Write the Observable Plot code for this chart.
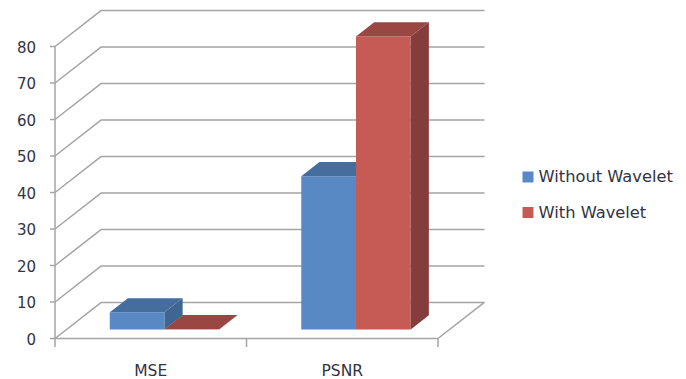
<!DOCTYPE html>
<html>
<head>
<meta charset="utf-8">
<style>
  html, body { margin: 0; background: #fff; }
  svg { display: block; }
</style>
<script src="https://cdn.jsdelivr.net/npm/d3@7"></script>
<script src="https://cdn.jsdelivr.net/npm/@observablehq/plot@0.6"></script>
</head>
<body>
<script>
// Values per metric
const categories = ["MSE", "PSNR"];
const seriesNames = ["Without Wavelet", "With Wavelet"];
const withoutWavelet = [4.7, 42];
const withWavelet = [0.1, 80.3];
const valueTicks = [0, 10, 20, 30, 40, 50, 60, 70, 80];

// Face colours: front, top, side
const palette = [
  {front: "#5889c4", top: "#456e9e", side: "#3f6592"},
  {front: "#c65b56", top: "#9a4744", side: "#843d3b"}
];

// Oblique projection of the floor depth, in x-scale and y-scale units
const depthX = 0.24;
const depthY = 9.85;
const project = (x, v, d) => ({X: x + d * depthX, Y: v + d * depthY});

// Bar geometry in category units
const barWidth = 1 / 3.5;
const barStart = 0.226;
const depthFront = 0.25;
const depthBack = 0.645;

// Flat polygon faces for each bar, painted back to front
const faces = [];
[withoutWavelet, withWavelet].forEach((values, s) => {
  values.forEach((v, c) => {
    const x0 = c + barStart + s * barWidth;
    const x1 = x0 + barWidth;
    const face = (kind, corners) => corners.forEach(([x, y, d], i) =>
      faces.push({id: `${c}-${s}-${kind}`, fill: palette[s][kind], order: i, ...project(x, y, d)}));
    face("front", [[x0, 0, depthFront], [x1, 0, depthFront], [x1, v, depthFront], [x0, v, depthFront]]);
    face("top", [[x0, v, depthFront], [x1, v, depthFront], [x1, v, depthBack], [x0, v, depthBack]]);
    face("side", [[x1, 0, depthFront], [x1, 0, depthBack], [x1, v, depthBack], [x1, v, depthFront]]);
  });
});

// Wall and floor lines running from the front plane to the back and across
const grid = valueTicks.flatMap(v => [
  {id: v, ...project(0, v, 0)},
  {id: v, ...project(0, v, 1)},
  {id: v, ...project(2, v, 1)}
]);
const floorEdge = [project(2, 0, 0), project(2, 0, 1)];

const axisColor = "#a4a4a4";
const textColor = "#333344";

// Legend rows sit to the right of the plot frame, offset from its top-left corner
const legendSwatchX = 473;
const legendTextX = 483.5;
const legendRowY = [130.5, 166];
const legendMarks = seriesNames.flatMap((name, i) => [
  Plot.dot([name], {frameAnchor: "top-left", dx: legendSwatchX, dy: legendRowY[i],
    symbol: "square", r: 6.2, fill: palette[i].front, stroke: null}),
  Plot.text([name], {frameAnchor: "top-left", dx: legendTextX, dy: legendRowY[i],
    text: d => d, textAnchor: "start", lineAnchor: "middle", fontSize: 16.3, fill: textColor})
]);

const chart = Plot.plot({
  width: 686,
  height: 379,
  marginLeft: 54.5,
  marginRight: 248.5,
  marginTop: 46,
  marginBottom: 41,
  style: {fontFamily: "'DejaVu Sans', sans-serif", background: "#fff"},
  x: {domain: [0, 2], axis: null},
  y: {domain: [0, 80], axis: null},
  marks: [
    Plot.line(grid, {x: "X", y: "Y", z: "id", stroke: axisColor, strokeWidth: 1.5}),
    Plot.line(floorEdge, {x: "X", y: "Y", stroke: axisColor, strokeWidth: 1.5}),
    Plot.ruleX([0], {y1: 0, y2: 80, stroke: axisColor, strokeWidth: 1.5}),
    Plot.ruleY([0], {x1: 0, x2: 2, stroke: axisColor, strokeWidth: 1.5}),
    Plot.axisY({ticks: valueTicks, text: null, label: null, tickSize: 4.5, stroke: axisColor, strokeWidth: 1.5}),
    Plot.axisY({ticks: valueTicks, tickSize: 0, tickPadding: 19, dy: 1.5, label: null,
      fontSize: 15, fill: textColor}),
    Plot.axisX({ticks: [0, 1, 2], text: null, label: null, tickSize: 9, stroke: axisColor, strokeWidth: 1.5}),
    Plot.axisX({ticks: [0.5, 1.5], tickSize: 0, tickPadding: 26, label: null,
      tickFormat: d => categories[Math.floor(d)], fontSize: 15.5, fill: textColor}),
    Plot.line(faces, {x: "X", y: "Y", z: "id", fill: "fill", stroke: null, curve: "linear-closed"}),
    ...legendMarks
  ]
});
document.body.appendChild(chart);
</script>
</body>
</html>
